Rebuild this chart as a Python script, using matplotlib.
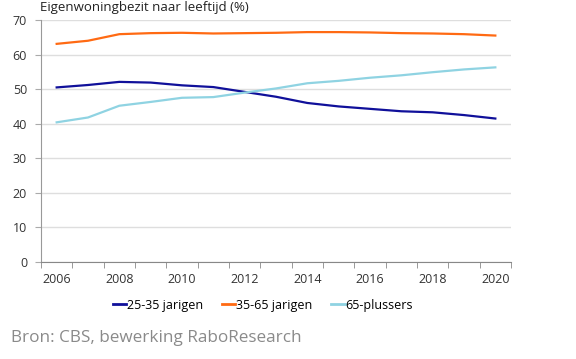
import numpy as np
import matplotlib.pyplot as plt

plt.rcParams['font.family'] = ['Open Sans', 'DejaVu Sans']

years = list(range(2006, 2021))
jong = [50.5, 51.2, 52.1, 51.9, 51.1, 50.6, 49.2, 47.8, 46.0, 45.0, 44.3, 43.6, 43.3, 42.5, 41.5]
midden = [63.1, 64.0, 65.9, 66.2, 66.3, 66.1, 66.2, 66.3, 66.5, 66.5, 66.4, 66.2, 66.1, 65.9, 65.5]
oud = [40.4, 41.8, 45.2, 46.3, 47.5, 47.7, 49.0, 50.2, 51.7, 52.4, 53.3, 54.0, 54.9, 55.7, 56.3]
labels = ['25-35 jarigen', '35-65 jarigen', '65-plussers']
colors = ['#10109a', '#ff6a13', '#8fd3e2']

fig = plt.figure(figsize=(5.76, 3.59), dpi=100)
ax = fig.add_axes([41/576, 1 - 262/359, (511 - 41)/576, (262 - 20)/359])

x = np.arange(len(years))
for series, lab, col in zip([jong, midden, oud], labels, colors):
    ax.plot(x, series, color=col, lw=1.6, label=lab)

ax.set_xlim(-0.5, len(years) - 0.5)
ax.set_ylim(0, 70)
ax.set_yticks(range(0, 71, 10))
ax.yaxis.grid(True, color='#dedede', lw=1)
ax.set_axisbelow(True)
ax.set_xticks(x[::2])
ax.set_xticklabels([str(y) for y in years[::2]])
ax.set_xticks(np.arange(-0.5, len(years)), minor=True)
ax.tick_params(axis='x', which='major', length=0, pad=8, labelsize=9, colors='#333333')
ax.tick_params(axis='x', which='minor', length=4, color='#888888', direction='out')
ax.tick_params(axis='y', length=4, color='#aaaaaa', labelsize=9, colors='#333333', pad=6)
for s in ['top', 'right']:
    ax.spines[s].set_visible(False)
ax.spines['left'].set_color('#999999')
ax.spines['bottom'].set_color('#888888')

fig.text(40/576, 1 - 7/359, 'Eigenwoningbezit naar leeftijd (%)',
         fontsize=9.5, color='#222222', va='center', ha='left')

leg = fig.legend(loc='center', bbox_to_anchor=(263/576, 1 - 305/359), ncol=3, frameon=False,
                 fontsize=9, handlelength=1.05, handletextpad=0.1, columnspacing=1.5)
for h in leg.get_lines():
    h.set_linewidth(2)

fig.text(11/576, 1 - 338/359, 'Bron: CBS, bewerking RaboResearch', fontsize=12.3,
         color='#8a8a8a', va='center', ha='left')

fig.savefig('out.png', dpi=100, facecolor='white')
